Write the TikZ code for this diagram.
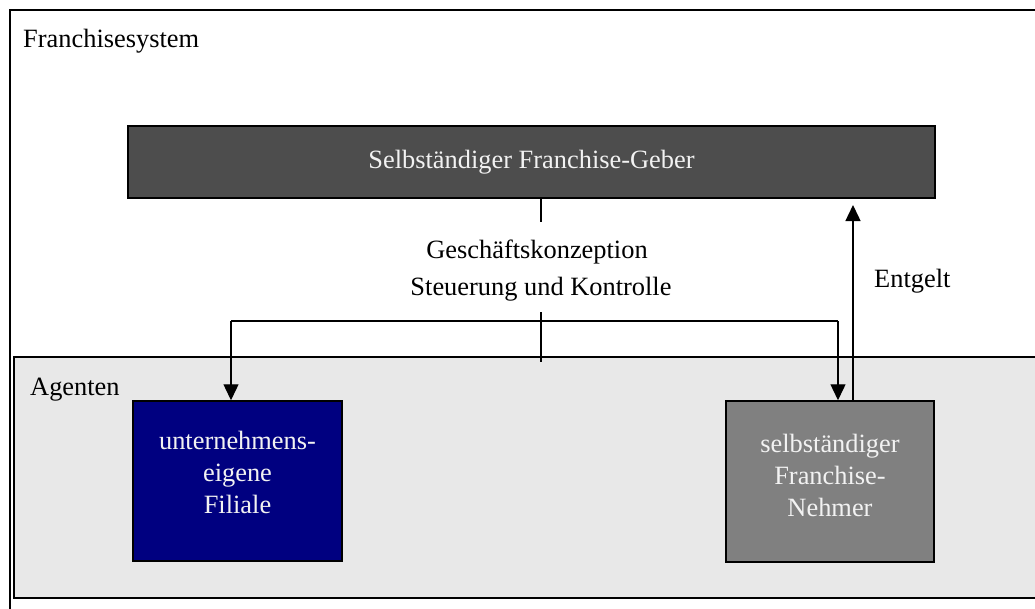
\documentclass[tikz,border=0pt]{standalone}
\usepackage{fontspec}
\setmainfont{Liberation Serif}
\usetikzlibrary{arrows.meta}
\definecolor{geberfill}{HTML}{4D4D4D}
\definecolor{filialefill}{HTML}{000080}
\definecolor{nehmerfill}{HTML}{808080}
\definecolor{agentfill}{HTML}{E8E8E8}
\definecolor{lighttext}{HTML}{F2F2F2}
\tikzset{
  txt/.style={font=\fontsize{26.4}{32}\selectfont, inner sep=0pt},
  boxstyle/.style={draw=black, line width=1.5pt, inner sep=0pt},
  boxtext/.style={txt, text=lighttext, align=center},
  conn/.style={line width=1.4pt},
  arr/.style={conn, -{Triangle[length=16pt,width=15pt]}},
}
\begin{document}
\begin{tikzpicture}[x={(1pt,0)}, y={(0,-1pt)}]
\useasboundingbox (0,0) rectangle (1035,608);
\clip (0,0) rectangle (1035,608);
% outer frame (system)
\draw[line width=2.2pt] (10,10) rectangle (1100,700);
\node[txt, anchor=base west] (systemlabel) at (23,47) {Franchisesystem};
% agent area
\draw[boxstyle, fill=agentfill] (14,357) rectangle (1100,598);
\node[txt, anchor=base west] (agentlabel) at (30,395) {Agenten};
% franchise giver
\node[boxstyle, fill=geberfill, minimum width=807pt, minimum height=72pt] (geber) at (531.5,162) {};
\node[boxtext] (gebertext) at (geber.center) {Selbständiger Franchise-Geber};
% agents
\node[boxstyle, fill=filialefill, minimum width=209pt, minimum height=160pt] (filiale) at (237.5,481) {};
\node[boxtext] (filialetext) at (237.5,472) {unternehmens-\\eigene\\Filiale};
\node[boxstyle, fill=nehmerfill, minimum width=208pt, minimum height=161pt] (nehmer) at (830,481.5) {};
\node[boxtext] (nehmertext) at (830,475) {selbständiger\\Franchise-\\Nehmer};
% labels
\node[txt, anchor=base] (gk) at (537,258) {Geschäftskonzeption};
\node[txt, anchor=base] (sk) at (541,295) {Steuerung und Kontrolle};
\node[txt, anchor=base west] (entgelt) at (874,287) {Entgelt};
% connectors
\coordinate (va) at (541,222);
\coordinate (vb) at (541,312);
\coordinate (vc) at (541,362);
\draw[conn] (geber.south -| va) -- (va);
\draw[conn] (vb) -- (vc);
\coordinate (hl) at (231,321);
\coordinate (hr) at (838,321);
\draw[conn] (hl) -- (hr);
\draw[arr] (hl) -- (hl |- filiale.north);
\draw[arr] (hr) -- (hr |- nehmer.north);
\coordinate (eg) at (853,205);
\draw[arr] (eg |- nehmer.north) -- (eg);
\end{tikzpicture}
\end{document}
